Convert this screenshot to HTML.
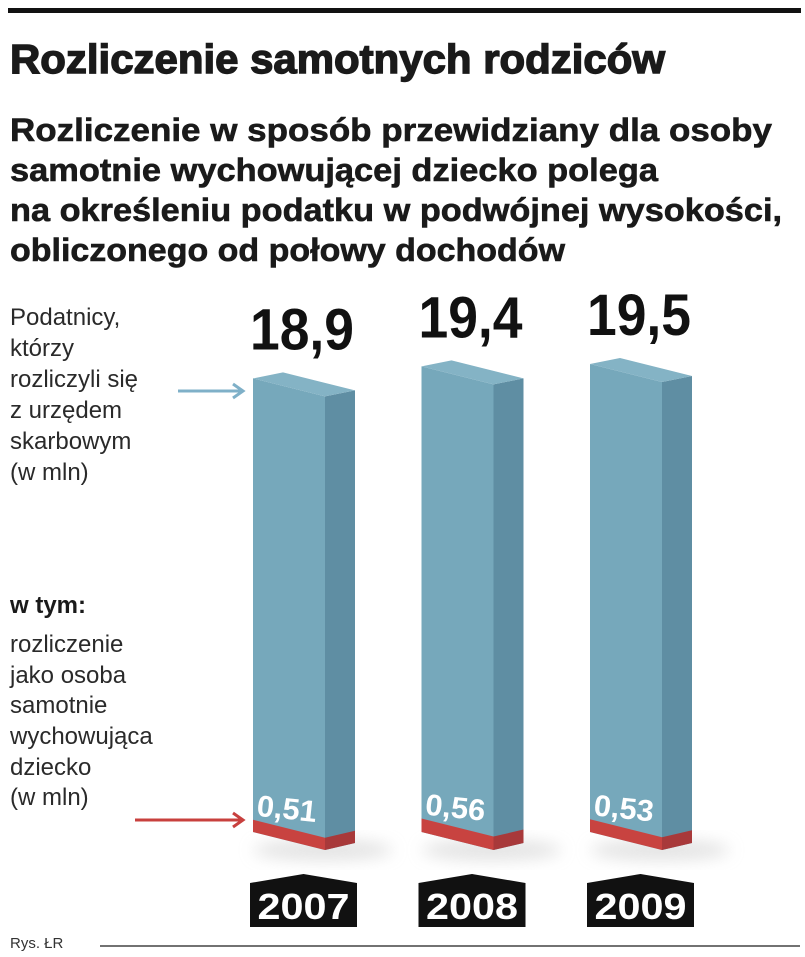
<!DOCTYPE html>
<html><head><meta charset="utf-8">
<style>
html,body{margin:0;padding:0;background:#fff;}
svg{display:block;}
text{font-family:"Liberation Sans",sans-serif;}
</style></head>
<body>
<svg id="chart" width="805" height="957" viewBox="0 0 805 957" xmlns="http://www.w3.org/2000/svg">
  <defs>
    <filter id="blur" x="-50%" y="-50%" width="200%" height="200%"><feGaussianBlur stdDeviation="8"/></filter>
  </defs>
  <rect x="8" y="8" width="793" height="5" fill="#111"/>
  <text x="10" y="73" font-size="41" font-weight="bold" fill="#1a1a1a" stroke="#1a1a1a" stroke-width="1.4" textLength="655" lengthAdjust="spacingAndGlyphs">Rozliczenie samotnych rodziców</text>
  <g font-size="32" font-weight="bold" fill="#1a1a1a" stroke="#1a1a1a" stroke-width="0.6">
    <text x="10" y="141" textLength="762" lengthAdjust="spacingAndGlyphs">Rozliczenie w sposób przewidziany dla osoby</text>
    <text x="10" y="181" textLength="648" lengthAdjust="spacingAndGlyphs">samotnie wychowującej dziecko polega</text>
    <text x="10" y="221" textLength="772" lengthAdjust="spacingAndGlyphs">na określeniu podatku w podwójnej wysokości,</text>
    <text x="10" y="261" textLength="555" lengthAdjust="spacingAndGlyphs">obliczonego od połowy dochodów</text>
  </g>
  <g font-size="24" fill="#2a2a2a">
    <text x="10" y="325">Podatnicy,</text>
    <text x="10" y="356">którzy</text>
    <text x="10" y="387">rozliczyli się</text>
    <text x="10" y="418">z urzędem</text>
    <text x="10" y="449">skarbowym</text>
    <text x="10" y="480">(w mln)</text>
  </g>
  <g stroke="#7fb0c8" stroke-width="3" fill="none">
    <line x1="178" y1="391" x2="242" y2="391"/>
    <polyline points="233,384 243,391 233,398"/>
  </g>
  <text x="10" y="613" font-size="24" font-weight="bold" fill="#1a1a1a">w tym:</text>
  <g font-size="24" fill="#2a2a2a">
    <text x="10" y="652">rozliczenie</text>
    <text x="10" y="683">jako osoba</text>
    <text x="10" y="713">samotnie</text>
    <text x="10" y="744">wychowująca</text>
    <text x="10" y="775">dziecko</text>
    <text x="10" y="805">(w mln)</text>
  </g>
  <g stroke="#c8403e" stroke-width="3" fill="none">
    <line x1="135" y1="820" x2="242" y2="820"/>
    <polyline points="233,813 243,820 233,827"/>
  </g>
  <g id="bars"></g>
  <line x1="100" y1="946" x2="800" y2="946" stroke="#444" stroke-width="1.5"/>
  <text x="10" y="948" font-size="15" fill="#333">Rys. ŁR</text>
</svg>
<script>
const years = ["2007", "2008", "2009"];
const totals = [18.9, 19.4, 19.5];
const singleParents = [0.51, 0.56, 0.53];
const totalLabels = ["18,9", "19,4", "19,5"];
const singleLabels = ["0,51", "0,56", "0,53"];

const NS = "http://www.w3.org/2000/svg";
const baseY = 832, pxPerUnit = 24.0;
const xLeft0 = 253, step = 168.5, frontW = 72, sideW = 30;
function yScale(v){ return baseY - v * pxPerUnit; }
function xBand(i){ return xLeft0 + i * step; }
function mk(tag, attrs, parent){
  const el = document.createElementNS(NS, tag);
  for (const k in attrs) el.setAttribute(k, attrs[k]);
  parent.appendChild(el);
  return el;
}
const g = document.getElementById("bars");
years.forEach((yr, i) => {
  const x = xBand(i);
  const top = yScale(totals[i]);
  const sl = 18;
  const grp = mk("g", {}, g);
  
  
  const sh = mk("ellipse", {cx: x + 70, cy: baseY + 18, rx: 70, ry: 10, fill: "#d6d6d6", filter: "url(#blur)", opacity: 0.7}, grp);
  
  
  const xr = x + frontW, xs = xr + sideW;
  const front = mk("polygon", {points: `${x},${top} ${xr},${top+sl} ${xr},${baseY+sl} ${x},${baseY}`, fill: "#76a8bb"}, grp);
  
  
  const side = mk("polygon", {points: `${xr},${top+sl} ${xs},${top+12} ${xs},${baseY+11} ${xr},${baseY+sl}`, fill: "#5f8ea3"}, grp);
  
  
  const topf = mk("polygon", {points: `${x},${top} ${x+30},${top-6} ${xs},${top+12} ${xr},${top+sl}`, fill: "#84b3c5"}, grp);
  
  
  const rh = singleParents[i] * pxPerUnit;
  const red = mk("polygon", {points: `${x},${baseY-rh} ${xr},${baseY+sl-rh} ${xr},${baseY+sl} ${x},${baseY}`, fill: "#c84340"}, grp);
  
  
  const redS = mk("polygon", {points: `${xr},${baseY+sl-rh} ${xs},${baseY+11-rh} ${xs},${baseY+11} ${xr},${baseY+sl}`, fill: "#a8393a"}, grp);
  
  
  const lx = x + 3, ly = baseY - rh - 4;
  const sl1 = mk("text", {x: lx, y: ly, "font-size": 30, "font-weight": "bold", fill: "#fff", transform: `rotate(6 ${lx} ${ly})`, textLength: 60, lengthAdjust: "spacingAndGlyphs"}, grp);
  sl1.textContent = singleLabels[i];
  
  
  const tl = mk("text", {x: x - 3, y: top - 29, "font-size": 58, "font-weight": "bold", fill: "#111", textLength: 104, lengthAdjust: "spacingAndGlyphs"}, grp);
  tl.textContent = totalLabels[i];
  
  
  const bx = x - 3, bw = 107;
  const tag = mk("polygon", {points: `${bx},883 ${bx+bw/2},874 ${bx+bw},883 ${bx+bw},927 ${bx},927`, fill: "#111"}, grp);
  
  
  const yt = mk("text", {x: bx + bw/2, y: 919, "font-size": 36, "font-weight": "bold", fill: "#fff", "text-anchor": "middle", textLength: 92, lengthAdjust: "spacingAndGlyphs"}, grp);
  yt.textContent = yr;
  
  
});
</script>
</body></html>
